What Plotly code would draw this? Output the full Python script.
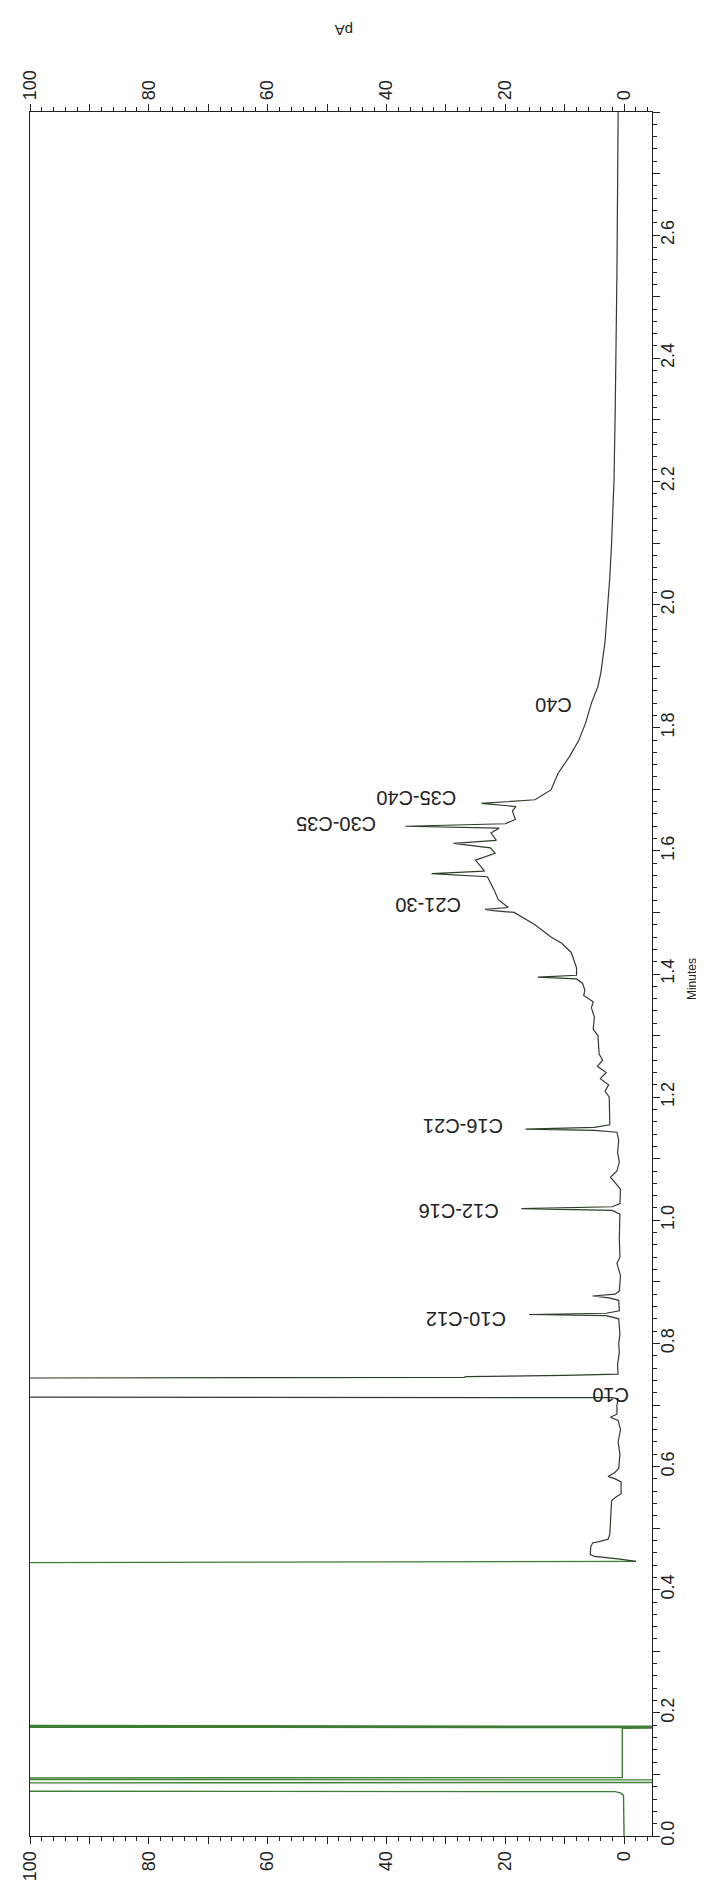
import plotly.graph_objects as go

# Chromatogram data (time in minutes, signal in pA); off-scale values clipped by axis range
time_min = [0.000, 0.010, 0.030, 0.050, 0.066, 0.070, 0.072, 0.073, 0.086, 0.087, 0.091, 0.092,
            0.094, 0.095, 0.175, 0.176, 0.177, 0.178, 0.179, 0.180, 0.443, 0.4445, 0.446,
            0.450, 0.454, 0.457, 0.470, 0.476, 0.479, 0.482, 0.490, 0.520, 0.545, 0.551,
            0.556, 0.575, 0.580, 0.584, 0.590, 0.597, 0.620, 0.640, 0.660, 0.675, 0.680,
            0.685, 0.700, 0.710, 0.712, 0.713, 0.743, 0.745, 0.746, 0.748, 0.750, 0.765,
            0.785, 0.800, 0.815, 0.840, 0.845, 0.847, 0.849, 0.853, 0.870, 0.874, 0.877,
            0.880, 0.885, 0.910, 0.930, 0.940, 0.970, 1.010, 1.016, 1.019, 1.022, 1.027,
            1.050, 1.060, 1.070, 1.080, 1.095, 1.110, 1.130, 1.143, 1.146, 1.148, 1.151,
            1.155, 1.180, 1.200, 1.210, 1.220, 1.230, 1.240, 1.250, 1.260, 1.270, 1.300,
            1.310, 1.330, 1.345, 1.355, 1.365, 1.374, 1.385, 1.392, 1.395, 1.398, 1.410,
            1.435, 1.450, 1.460, 1.480, 1.490, 1.500, 1.503, 1.505, 1.508, 1.521, 1.535,
            1.548, 1.558, 1.563, 1.567, 1.585, 1.596, 1.605, 1.612, 1.617, 1.629, 1.637,
            1.640, 1.644, 1.651, 1.665, 1.672, 1.677, 1.683, 1.699, 1.726, 1.753, 1.780,
            1.807, 1.840, 1.867, 1.890, 1.940, 1.990, 2.045, 2.100, 2.150, 2.200, 2.310,
            2.540, 2.800]
signal_pA = [0.0, 0.0, 0.1, 0.0, 0.1, 0.6, 1.5, 150, 150, -20, -20, 150,
             150, 0.3, 0.3, -20, 150, -20, 150, 150, 150, 30, -2.0,
             1.0, 5.0, 5.7, 5.6, 5.3, 3.9, 2.7, 2.4, 2.3, 2.1, 1.3,
             0.5, 0.5, 1.5, 2.7, 1.6, 0.9, 0.7, 1.0, 0.6, 1.0, 2.3,
             1.2, 1.2, 1.0, 2.0, 150, 150, 27.0, 26.5, 10.0, 1.0, 1.1,
             0.8, 0.9, 0.7, 0.9, 3.0, 16.0, 3.0, 0.8, 0.9, 2.5, 5.3,
             1.5, 0.8, 0.6, 1.2, 0.7, 0.8, 0.7, 2.0, 17.3, 2.0, 0.7,
             0.6, 1.4, 2.3, 1.2, 0.8, 1.1, 0.9, 1.2, 5.0, 16.6, 5.0,
             2.4, 2.5, 2.5, 3.2, 2.6, 4.0, 3.0, 4.5, 3.6, 4.2, 4.4,
             5.2, 5.0, 5.5, 5.2, 6.8, 6.6, 7.0, 8.0, 14.5, 8.0, 8.0,
             8.9, 10.5, 12.3, 15.0, 16.7, 18.5, 22.0, 23.4, 19.5, 21.2, 21.8,
             22.5, 23.0, 32.4, 23.5, 25.0, 21.7, 22.5, 28.7, 21.5, 22.4, 21.0,
             36.8, 20.0, 18.3, 18.8, 18.2, 24.0, 15.0, 12.3, 11.1, 9.2, 7.6,
             6.5, 5.5, 4.4, 3.9, 3.2, 2.8, 2.4, 2.1, 1.9, 1.7, 1.5,
             1.2, 1.0]

# Peak annotations
peak_labels = ["C10", "C10-C12", "C12-C16", "C16-C21", "C21-30", "C30-C35", "C35-C40", "C40"]
peak_label_time = [0.716, 0.840, 1.015, 1.152, 1.511, 1.644, 1.685, 1.837]
peak_label_pA = [2.2, 26.7, 27.9, 27.2, 33.1, 48.4, 35.0, 11.9]

# Tick labels
pa_ticks = [0, 10, 20, 30, 40, 50, 60, 70, 80, 90, 100]
pa_ticktext = ["0", "", "20", "", "40", "", "60", "", "80", "", "100"]
min_ticks = [round(0.1 * i, 1) for i in range(29)]
min_ticktext = [f"{v:.1f}" if i % 2 == 0 and v < 2.75 else "" for i, v in enumerate(min_ticks)]

split = 23  # early (greenish) segment ends after the solvent peak
font_family = "Liberation Sans, Arial, sans-serif"

fig = go.Figure()
fig.add_trace(go.Scatter(x=signal_pA[:split], y=time_min[:split], mode="lines",
                         line=dict(color="#3f7d35", width=1.4), showlegend=False, hoverinfo="skip"))
fig.add_trace(go.Scatter(x=signal_pA[split - 1:], y=time_min[split - 1:], mode="lines",
                         line=dict(color="#2f3d2c", width=1.2), showlegend=False, hoverinfo="skip"))
# invisible trace to activate top axis
fig.add_trace(go.Scatter(x=signal_pA[:2], y=time_min[:2], mode="lines", xaxis="x2",
                         line=dict(color="rgba(0,0,0,0)"), showlegend=False, hoverinfo="skip"))

for lab, t, p in zip(peak_labels, peak_label_time, peak_label_pA):
    fig.add_annotation(x=p, y=t, xref="x", yref="y", text=lab, showarrow=False,
                       textangle=180, font=dict(size=20, color="#222", family=font_family))

fig.add_annotation(x=0.504, y=1.0535, xref="paper", yref="paper", text="pA", showarrow=False,
                   textangle=180, font=dict(size=15, color="#222", family=font_family))
fig.add_annotation(x=1.077, y=0.497, xref="paper", yref="paper", text="Minutes", showarrow=False,
                   borderpad=0,
                   textangle=-90, font=dict(size=12, color="#222", family="Liberation Sans Narrow, Liberation Sans, Arial"))

axis_common = dict(
    range=[100, -4.7], tickvals=pa_ticks, ticktext=pa_ticktext, tickangle=-90,
    ticks="outside", ticklen=7, tickcolor="#222", showline=True, linecolor="#222", linewidth=1.2,
    showgrid=False, zeroline=False, tickfont=dict(size=18, color="#222", family=font_family),
    minor=dict(dtick=2, tick0=0, ticks="outside", ticklen=4, tickcolor="#222", showgrid=False),
)
fig.update_layout(
    width=704, height=1885,
    margin=dict(l=21, r=60, t=104, b=43),
    paper_bgcolor="white", plot_bgcolor="white",
    xaxis=dict(side="bottom", **axis_common),
    xaxis2=dict(side="top", overlaying="x", matches="x", **axis_common),
    yaxis=dict(range=[0, 2.8], side="right", tickvals=min_ticks, ticktext=min_ticktext,
               tickangle=-90, ticks="outside", ticklen=7, tickcolor="#222",
               ticklabelstandoff=-8,
               showline=True, mirror=True, linecolor="#222", linewidth=1.2,
               showgrid=False, zeroline=False,
               tickfont=dict(size=18, color="#222", family=font_family),
               minor=dict(dtick=0.02, tick0=0, ticks="outside", ticklen=4, tickcolor="#222", showgrid=False)),
)

fig.write_html("out.html")
